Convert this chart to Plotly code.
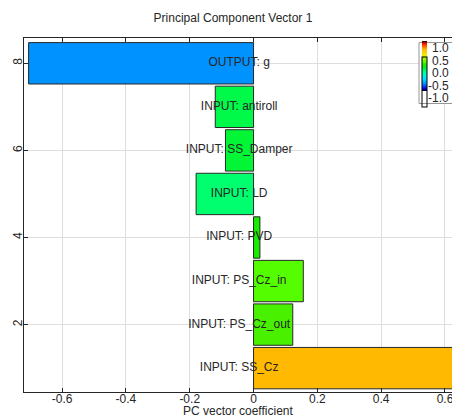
import plotly.graph_objects as go

# ---- data ----
categories = [
    "INPUT: SS_Cz",
    "INPUT: PS_Cz_out",
    "INPUT: PS_Cz_in",
    "INPUT: PVD",
    "INPUT: LD",
    "INPUT: SS_Damper",
    "INPUT: antiroll",
    "OUTPUT: g",
]
positions = [1, 2, 3, 4, 5, 6, 7, 8]
coefficients = [0.66, 0.123, 0.156, 0.020, -0.180, -0.088, -0.120, -0.705]

x_tick_values = [-0.6, -0.4, -0.2, 0, 0.2, 0.4, 0.6]
x_tick_labels = ["-0.6", "-0.4", "-0.2", "0", "0.2", "0.4", "0.6"]
y_tick_values = [2, 4, 6, 8]
y_tick_labels = ["2", "4", "6", "8"]
cbar_tick_values = [-1, -0.5, 0, 0.5, 1]
cbar_tick_labels = ["-1.0", "-0.5", "0.0", "0.5", "1.0"]

# ---- style ----
FONT = "Liberation Sans, Arial, Helvetica, sans-serif"
TXT = "#262626"
W, H = 452, 419
ML, MR, MT, MB = 24, 0, 38, 27
PW, PH = W - ML - MR, H - MT - MB
LABEL_X = -0.045  # horizontal anchor of the bar name labels (data units)

# colour-bar geometry (pixels)
CB_LEFT, CB_TOP, CB_LEN, CB_THICK = 422, 48, 50, 5
BOX_LEFT, BOX_TOP, BOX_BOTTOM = 419, 42.5, 103.5
CB_LABEL_RIGHT = 451

colorscale = [
    [0.00, "rgb(0,0,0)"],
    [0.04, "rgb(0,0,190)"],
    [0.10, "rgb(0,80,255)"],
    [0.15, "rgb(0,150,255)"],
    [0.25, "rgb(0,230,255)"],
    [0.35, "rgb(0,255,180)"],
    [0.41, "rgb(0,255,110)"],
    [0.45, "rgb(0,248,60)"],
    [0.50, "rgb(15,235,0)"],
    [0.56, "rgb(72,240,0)"],
    [0.58, "rgb(85,255,0)"],
    [0.72, "rgb(240,240,0)"],
    [0.83, "rgb(255,185,0)"],
    [0.92, "rgb(255,60,0)"],
    [0.97, "rgb(190,0,0)"],
    [1.00, "rgb(0,0,0)"],
]

fig = go.Figure()
fig.add_trace(go.Bar(
    x=coefficients,
    y=positions,
    orientation="h",
    width=0.95,
    marker=dict(
        color=coefficients,
        colorscale=colorscale,
        cmin=-1,
        cmax=1,
        line=dict(color="rgb(40,40,40)", width=1),
        colorbar=dict(
            xref="container", yref="container",
            x=CB_LEFT / W, xanchor="left",
            y=1 - CB_TOP / H, yanchor="top",
            lenmode="pixels", len=CB_LEN,
            thickness=CB_THICK, thicknessmode="pixels",
            xpad=0, ypad=0,
            outlinewidth=1, outlinecolor="black",
            bgcolor="rgba(0,0,0,0)", borderwidth=0,
            tickmode="array", tickvals=cbar_tick_values,
            ticks="", showticklabels=False,
        ),
    ),
    hoverinfo="x+y",
    showlegend=False,
))

fig.add_trace(go.Scatter(
    x=[LABEL_X] * len(categories),
    y=positions,
    mode="text",
    text=categories,
    textposition="middle center",
    textfont=dict(family=FONT, size=12, color=TXT),
    showlegend=False,
    hoverinfo="skip",
))

axis_common = dict(
    showgrid=True, gridcolor="rgb(222,222,222)", gridwidth=1,
    zeroline=False,
    showline=True, linecolor="rgb(38,38,38)", linewidth=1,
    ticks="inside", ticklen=4, tickcolor="rgb(38,38,38)",
    tickfont=dict(family=FONT, size=12, color=TXT),
    automargin=False,
    tickmode="array",
    ticklabeloverflow="allow",
)

# colour-bar tick labels, right aligned like the reference
cb_annotations = []
for v, t in zip(cbar_tick_values, cbar_tick_labels):
    py = CB_TOP + (1 - v) / 2 * CB_LEN
    cb_annotations.append(dict(
        text=t, xref="paper", yref="paper",
        x=(CB_LABEL_RIGHT - ML) / PW, xanchor="right",
        y=(H - MB - py) / PH, yanchor="middle",
        showarrow=False,
        font=dict(family=FONT, size=12, color=TXT),
    ))

fig.update_layout(
    width=W, height=H,
    margin=dict(l=ML, r=MR, t=MT, b=MB, pad=0, autoexpand=False),
    paper_bgcolor="white", plot_bgcolor="white",
    template="none",
    font=dict(family=FONT, size=12, color=TXT),
    title=dict(
        text="Principal Component Vector 1",
        xref="container", yref="container",
        x=233 / W, xanchor="center",
        y=1 - 17.5 / H, yanchor="middle",
        font=dict(family=FONT, size=12, color=TXT),
    ),
    xaxis=dict(
        range=[-0.7194, 0.622],
        tickvals=x_tick_values, ticktext=x_tick_labels,
        mirror="ticks",
        ticklabelstandoff=-4,
        **axis_common,
    ),
    yaxis=dict(
        range=[0.452, 8.581],
        tickvals=y_tick_values, ticktext=y_tick_labels,
        tickangle=-90,
        mirror=False,
        ticklabelstandoff=-4,
        **axis_common,
    ),
    shapes=[dict(
        type="rect", xref="paper", yref="paper", layer="above",
        x0=(BOX_LEFT - ML) / PW, x1=(W + 20 - ML) / PW,
        y0=(H - MB - BOX_BOTTOM) / PH, y1=(H - MB - BOX_TOP) / PH,
        fillcolor="white", line=dict(color="rgb(150,150,150)", width=1),
    )],
    annotations=[dict(
        text="PC vector coefficient",
        xref="paper", yref="paper",
        x=(238 - ML) / PW, xanchor="center",
        y=(H - MB - 410.5) / PH, yanchor="middle",
        showarrow=False,
        font=dict(family=FONT, size=12, color=TXT),
    )] + cb_annotations,
)

fig.write_html("out.html")
